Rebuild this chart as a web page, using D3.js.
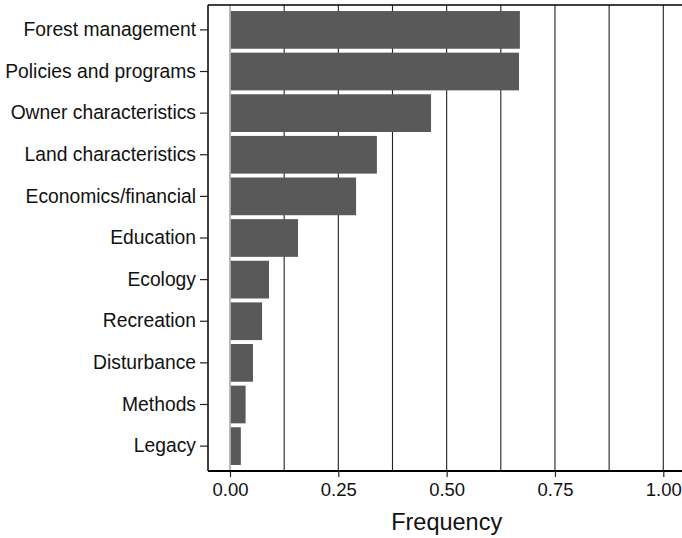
<!DOCTYPE html>
<html>
<head>
<meta charset="utf-8">
<script src="https://d3js.org/d3.v7.min.js"></script>
<style>
  body { margin: 0; background: #fff; }
  svg text { font-family: "Liberation Sans", Arial, sans-serif; fill: #111; }
</style>
</head>
<body>
<svg id="chart"></svg>
<script>
// Data
const categories = ["Forest management", "Policies and programs", "Owner characteristics",
    "Land characteristics", "Economics/financial", "Education", "Ecology", "Recreation",
    "Disturbance", "Methods", "Legacy"];
const frequency = [0.669, 0.667, 0.464, 0.339, 0.291, 0.157, 0.090, 0.074, 0.053, 0.036, 0.025];
const xTicks = [0, 0.25, 0.5, 0.75, 1.0];
const gridLines = [0.125, 0.25, 0.375, 0.5, 0.625, 0.75, 0.875, 1.0];

const width = 682;
const height = 538;
const margin = { top: 5, right: 0, bottom: 67, left: 208 };

const svg = d3.select("#chart")
    .attr("width", width)
    .attr("height", height);

const data = categories.map((c, i) => ({ cat: c, val: frequency[i] }));

const x = d3.scaleLinear()
    .domain([0, 1])
    .range([230, 663.3]);

const y = d3.scaleBand()
    .domain(categories)
    .range([margin.top, height - margin.bottom])
    .paddingInner(0.094)
    .paddingOuter(0.145);

const yTop = margin.top;
const yBot = height - margin.bottom;

// Grid lines
svg.append("g")
    .selectAll("line")
    .data(gridLines)
    .enter()
    .append("line")
    .attr("x1", d => x(d))
    .attr("x2", d => x(d))
    .attr("y1", yTop)
    .attr("y2", yBot)
    .attr("stroke", "#222")
    .attr("stroke-width", 1.1);

// Zero line
svg.append("line")
    .attr("x1", x(0)).attr("x2", x(0))
    .attr("y1", yTop).attr("y2", yBot)
    .attr("stroke", "#8a8a8a")
    .attr("stroke-width", 1.2);

// Bars
svg.append("g")
    .selectAll("rect")
    .data(data)
    .enter()
    .append("rect")
    .attr("x", x(0) + 0.8)
    .attr("y", d => y(d.cat))
    .attr("width", d => x(d.val) - x(0) - 0.8)
    .attr("height", y.bandwidth())
    .attr("fill", "#595959");

// Frame: top line
svg.append("line")
    .attr("x1", margin.left).attr("x2", width)
    .attr("y1", yTop).attr("y2", yTop)
    .attr("stroke", "#000")
    .attr("stroke-width", 1.5);

// Y axis
const yAxis = svg.append("g")
    .attr("transform", `translate(${margin.left},0)`)
    .call(d3.axisLeft(y).tickSize(8).tickPadding(4));
yAxis.select(".domain").attr("stroke", "#000").attr("stroke-width", 1.5)
    .attr("d", `M0,${yTop}V${yBot}`);
yAxis.selectAll(".tick line").attr("stroke", "#222").attr("stroke-width", 1.2);
yAxis.selectAll("text").style("font-size", "19.3px");

// X axis
const xAxis = svg.append("g")
    .attr("transform", `translate(0,${yBot})`)
    .call(d3.axisBottom(x).tickValues(xTicks).tickFormat(d3.format(".2f")).tickSize(6).tickPadding(6));
xAxis.select(".domain").attr("stroke", "#000").attr("stroke-width", 2.2)
    .attr("d", `M${margin.left},0H${width}`);
xAxis.selectAll(".tick line").attr("stroke", "#222").attr("stroke-width", 1.2);
xAxis.selectAll("text").style("font-size", "18.5px");

// Axis title
svg.append("text")
    .attr("x", x(0.5))
    .attr("y", 530)
    .attr("text-anchor", "middle")
    .style("font-size", "23.5px")
    .text("Frequency");
</script>
</body>
</html>
